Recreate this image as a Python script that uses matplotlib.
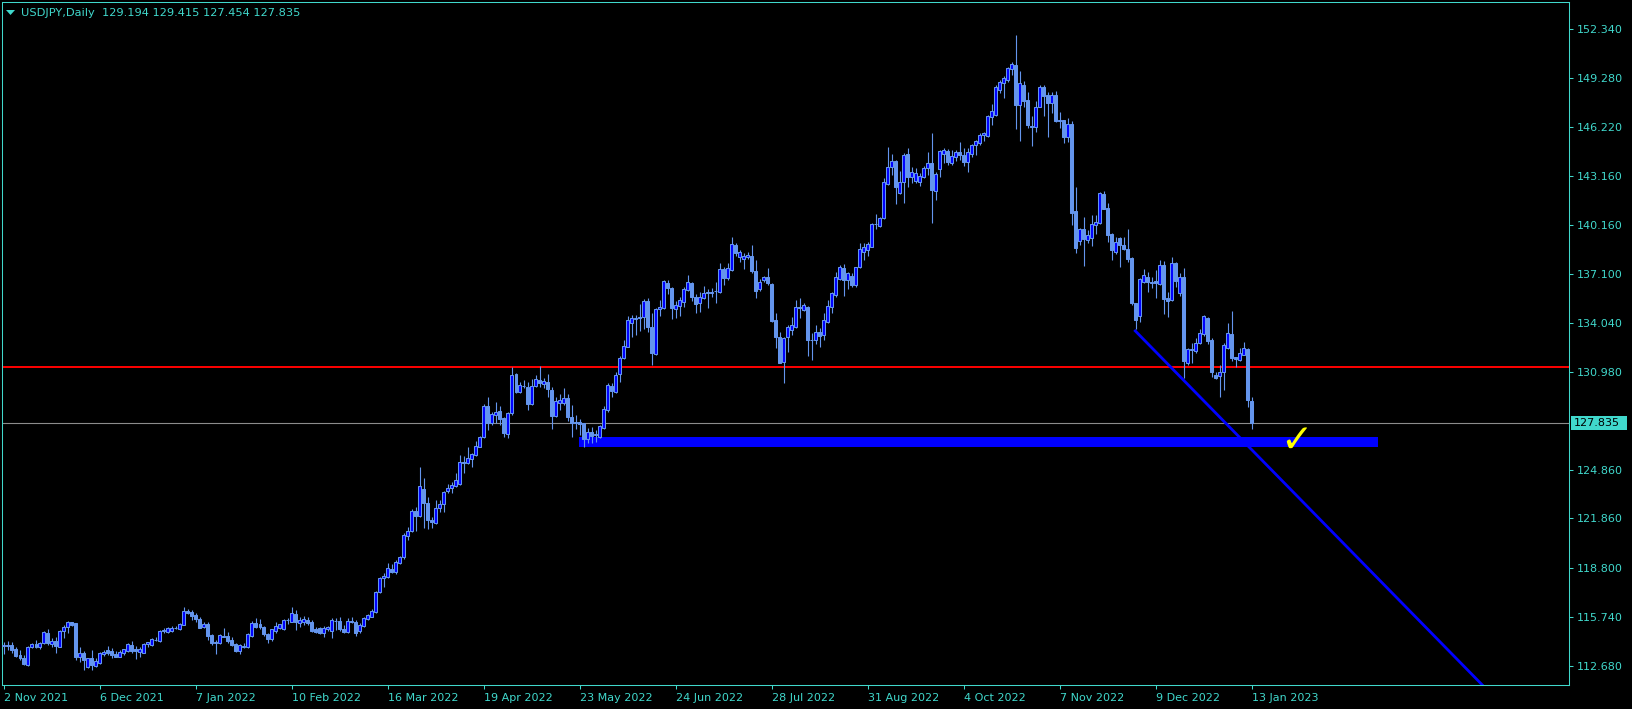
import matplotlib
matplotlib.use("Agg")
import matplotlib.pyplot as plt
import numpy as np
from matplotlib.patches import Rectangle, Polygon

# ---------------- data ----------------
symbol_title = "USDJPY,Daily"

opens = [
113.93,113.98,113.98,113.75,113.36,113.19,112.74,113.84,114.04,113.88,
114.09,114.75,114.02,114.23,113.88,114.85,115.12,115.41,115.33,113.26,
113.47,112.63,113.15,112.68,112.84,113.40,113.67,113.63,113.42,113.25,
113.46,113.61,113.98,113.71,113.55,113.50,114.04,113.98,114.27,114.23,
114.85,114.81,114.87,115.04,114.98,115.23,116.10,116.05,115.85,115.58,
115.12,115.29,114.60,114.13,114.09,114.56,114.54,114.29,114.04,113.63,
113.88,113.84,114.54,115.33,115.27,115.12,114.67,114.35,114.87,115.06,
114.96,115.54,115.43,115.91,115.33,115.43,115.54,115.43,114.96,115.06,
114.71,114.96,114.87,115.50,115.48,114.96,114.81,115.46,115.39,114.87,
115.19,115.62,115.75,116.02,117.30,118.13,118.24,118.71,118.51,119.11,
119.44,120.79,121.08,122.33,122.03,123.67,122.80,121.76,121.60,122.53,
122.76,123.57,123.74,123.90,123.98,125.40,125.29,125.54,125.81,126.33,
126.95,128.86,127.78,128.30,128.55,128.10,127.12,128.41,130.86,129.71,
130.13,130.05,128.99,130.13,130.48,130.23,130.38,129.86,128.24,129.07,
129.07,129.34,128.20,127.89,127.89,127.78,126.81,127.26,127.06,126.95,
127.47,128.61,130.13,129.76,130.83,131.83,132.56,134.01,134.30,134.38,
134.43,135.42,133.80,132.08,134.88,134.94,136.54,136.19,134.88,135.09,
135.36,136.09,136.54,135.67,135.26,135.57,135.88,135.88,136.00,135.98,
137.37,136.81,137.33,138.89,138.12,137.99,138.12,138.20,137.29,136.13,
136.71,136.87,136.46,134.22,133.18,131.62,133.14,133.62,133.80,135.01,
134.84,135.00,132.95,133.00,133.45,133.30,134.11,135.01,135.78,136.75,
137.44,136.71,136.96,136.40,137.50,138.47,138.58,138.78,140.18,140.07,
140.55,142.69,143.72,144.12,142.11,142.79,144.55,143.10,142.90,142.83,
143.14,143.66,143.97,142.27,143.60,144.53,144.74,144.01,144.39,144.70,
144.49,144.08,144.53,145.11,145.22,145.74,145.68,146.84,146.98,148.54,
148.96,149.16,149.85,150.10,147.61,148.85,147.92,146.30,146.22,147.50,
148.71,148.23,147.75,148.20,146.60,146.65,145.60,146.40,141.01,139.14,
139.86,139.20,139.34,140.13,140.24,142.05,141.21,139.57,138.47,139.30,
138.89,138.64,138.06,135.26,134.49,136.61,136.92,136.50,136.65,136.46,
137.64,135.61,135.46,137.75,135.92,136.87,131.52,132.33,132.31,132.81,
133.33,134.36,132.97,130.79,130.75,130.96,132.45,133.35,131.89,131.73,
132.04,132.41,129.194]

highs = [
114.15,114.23,114.19,113.85,113.67,113.36,113.92,114.13,114.29,114.19,
114.87,114.98,114.40,114.46,114.92,115.21,115.48,115.43,115.37,113.84,
113.63,113.19,113.67,113.15,113.57,113.67,113.92,113.77,113.63,113.67,
113.75,114.08,114.23,113.92,113.84,114.09,114.19,114.40,114.46,114.92,
115.02,115.12,115.17,115.17,115.37,116.37,116.20,116.16,115.95,115.75,
115.43,115.43,114.66,114.29,114.66,115.02,114.81,114.46,114.13,114.04,
114.09,114.71,115.48,115.64,115.58,115.17,114.75,115.00,115.43,115.30,
115.58,115.68,116.33,116.16,115.75,115.80,115.75,115.54,115.12,115.12,
115.19,115.16,115.64,115.64,115.75,115.23,115.64,115.75,115.54,115.37,
115.75,115.91,116.20,117.36,118.24,118.44,119.10,119.02,119.27,119.52,
120.98,121.35,122.43,122.60,125.09,124.36,123.22,121.97,123.01,123.01,
123.57,124.01,124.15,124.67,125.81,125.75,126.29,125.96,126.70,127.00,
129.00,129.44,128.51,129.13,128.86,128.20,128.51,131.27,130.94,130.38,
130.48,130.38,130.52,130.79,131.35,130.59,130.83,130.03,129.40,129.61,
130.00,129.61,128.93,128.30,128.03,127.83,127.47,127.58,127.37,127.68,
128.86,130.27,130.27,131.00,131.97,132.97,134.47,134.53,134.53,135.21,
135.50,135.57,134.63,134.94,135.46,136.71,136.71,136.25,135.42,135.63,
136.25,137.02,136.60,135.84,135.98,136.33,136.13,136.19,136.60,137.75,
137.54,137.79,139.41,139.03,138.58,138.41,138.47,138.89,137.95,136.75,
136.96,137.43,136.50,134.63,133.49,133.18,133.91,134.38,135.46,135.57,
135.26,135.10,133.40,133.90,133.70,134.63,135.46,135.98,137.23,137.64,
137.71,137.23,137.12,137.54,138.99,139.03,139.10,140.24,140.82,140.66,
143.04,145.01,144.55,144.18,143.52,144.60,144.91,143.77,143.66,143.35,
143.81,144.70,145.88,143.46,144.80,144.95,144.85,144.80,144.80,145.32,
144.91,144.91,145.18,145.43,145.84,145.94,146.98,147.67,148.85,149.16,
149.41,149.99,150.30,151.96,149.74,149.10,148.44,146.92,147.88,148.85,
148.85,148.40,148.40,148.45,147.20,146.70,146.80,146.60,142.52,139.93,
140.65,139.82,140.76,140.76,142.21,142.25,141.48,139.65,139.41,139.41,
139.41,139.86,138.12,135.30,136.81,137.37,137.23,136.92,137.33,137.95,
137.91,135.98,138.12,137.85,137.16,137.44,132.45,132.77,133.08,133.64,
134.55,134.43,133.08,131.00,131.42,132.77,134.05,134.78,131.93,132.45,
132.83,132.45,129.415]

lows = [
113.40,113.67,113.46,113.25,113.05,112.73,112.68,113.77,113.77,113.71,
114.04,113.98,113.84,113.50,113.84,114.44,114.75,115.19,113.05,112.94,
112.43,112.53,112.43,112.60,112.80,113.30,113.36,113.15,113.21,113.21,
113.36,113.55,113.50,113.09,113.25,113.46,113.84,113.92,114.23,114.19,
114.71,114.75,114.81,114.96,114.92,115.21,115.92,115.54,115.43,115.06,
115.02,114.29,113.98,113.42,114.04,114.46,114.13,113.92,113.57,113.42,
113.78,113.77,114.46,115.06,114.98,114.54,114.08,114.25,114.71,114.95,
114.90,115.29,115.40,114.92,115.12,115.20,115.23,114.81,114.75,114.67,
114.46,114.87,114.40,114.92,114.87,114.75,114.75,115.33,114.54,114.75,
115.12,115.54,115.70,115.95,117.24,117.61,118.13,118.44,118.40,119.02,
119.36,120.52,121.04,121.10,121.97,121.25,121.20,121.25,121.52,122.28,
122.28,123.42,123.42,123.84,123.94,124.71,125.25,125.04,125.75,126.29,
126.89,127.37,127.68,127.78,127.68,126.95,126.89,128.30,129.65,129.65,
129.96,128.63,128.93,130.07,130.07,129.96,129.40,127.41,128.16,128.61,
128.93,127.95,126.95,127.41,127.06,126.33,126.58,126.54,126.64,126.85,
127.41,128.51,129.44,129.69,130.38,131.77,132.52,133.14,133.28,133.55,
133.64,133.45,131.41,132.04,134.47,134.88,135.84,134.26,134.32,134.47,
135.05,136.04,135.42,134.67,134.74,135.50,134.94,135.67,135.30,135.92,
136.40,136.71,137.29,138.20,137.85,137.37,137.99,137.16,135.57,136.04,
136.60,136.40,134.11,132.45,131.52,130.32,132.25,133.30,133.70,134.32,
134.80,132.00,131.72,132.70,132.55,133.00,134.00,134.63,135.67,136.71,
135.71,136.13,136.30,136.30,137.44,137.95,138.20,138.74,139.87,139.99,
140.49,142.62,143.25,141.44,142.06,141.52,142.52,142.73,142.77,142.56,
143.04,143.25,140.28,141.69,143.14,143.97,143.87,143.87,144.14,144.18,
143.81,143.46,144.35,144.49,145.11,145.38,145.63,146.36,146.94,148.37,
148.06,149.06,149.47,146.11,145.38,147.47,146.19,145.05,145.95,147.46,
146.92,145.63,147.10,146.55,146.20,145.25,145.30,140.13,138.41,138.89,
137.58,138.99,138.83,139.57,140.20,141.10,139.10,137.95,138.31,137.50,
138.58,137.85,135.15,133.64,134.07,136.55,135.98,136.19,135.57,136.40,
134.59,134.43,135.40,136.25,135.71,130.59,131.41,131.52,132.18,132.73,
133.24,132.72,130.69,130.55,129.45,129.86,132.39,131.69,131.27,131.66,
132.02,128.78,127.454]

closes = [
113.98,113.90,113.67,113.30,113.19,112.80,113.84,114.04,113.84,114.13,
114.81,114.09,114.23,113.92,114.87,115.12,115.41,115.23,113.26,113.47,
113.05,113.15,112.74,112.99,113.46,113.57,113.50,113.36,113.25,113.54,
113.71,114.03,113.63,113.63,113.71,114.04,114.15,114.36,114.28,114.85,
114.92,115.02,115.06,115.02,115.29,116.10,115.99,115.79,115.58,115.06,
115.27,114.54,114.09,114.19,114.60,114.50,114.23,113.98,113.63,113.96,
113.88,114.67,115.37,115.12,115.08,114.67,114.38,114.96,115.16,115.27,
115.54,115.52,115.95,115.39,115.54,115.60,115.37,114.87,114.81,114.71,
115.02,115.08,115.54,115.46,114.96,114.81,115.48,115.42,114.75,115.23,
115.64,115.85,116.12,117.30,118.13,118.28,118.75,118.51,119.17,119.44,
120.83,121.08,122.33,122.03,123.88,122.84,121.76,121.64,122.49,122.76,
123.53,123.76,123.94,124.25,125.40,125.33,125.60,125.85,126.37,126.95,
128.86,127.78,128.34,128.49,128.03,127.16,128.41,130.79,129.76,130.17,
130.09,129.01,130.13,130.52,130.27,130.42,129.92,128.24,129.19,129.24,
129.34,128.20,127.78,127.78,127.74,126.81,127.22,127.02,127.06,127.62,
128.66,130.17,129.82,130.79,131.83,132.60,134.22,134.32,134.34,134.32,
135.42,133.80,132.18,134.88,135.01,136.65,136.19,134.94,135.15,135.46,
136.13,136.56,135.67,135.21,135.63,135.88,135.96,135.98,136.04,137.37,
136.81,137.43,138.93,138.41,138.47,138.20,138.27,137.29,136.04,136.60,
136.92,136.54,134.18,133.18,131.56,133.12,133.80,133.88,135.01,134.96,
135.15,132.95,133.00,133.45,133.25,134.22,135.09,135.88,136.88,137.50,
136.71,137.12,136.40,137.50,138.62,138.74,138.95,140.20,140.20,140.55,
142.79,143.72,144.12,142.52,142.79,144.49,143.14,143.46,143.39,143.19,
143.66,144.02,142.31,143.31,144.74,144.80,144.08,144.43,144.70,144.49,
144.08,144.66,145.11,145.38,145.74,145.84,146.92,147.23,148.75,149.04,
149.27,149.89,150.16,147.61,148.96,147.85,146.36,146.22,147.46,148.71,
148.17,147.75,148.20,146.60,146.65,145.60,146.40,140.90,138.72,139.86,
139.26,139.51,140.20,140.34,142.10,141.15,139.51,138.58,139.10,138.89,
138.64,137.99,135.30,134.22,136.75,137.02,136.56,136.61,136.54,137.64,
135.53,135.42,137.75,136.67,136.87,131.66,132.39,132.41,132.77,133.43,
134.49,132.91,131.00,130.59,131.00,132.66,133.39,131.83,131.79,132.18,
132.45,129.24,127.835]

date_labels = ["2 Nov 2021", "6 Dec 2021", "7 Jan 2022", "10 Feb 2022",
               "16 Mar 2022", "19 Apr 2022", "23 May 2022", "24 Jun 2022",
               "28 Jul 2022", "31 Aug 2022", "4 Oct 2022", "7 Nov 2022",
               "9 Dec 2022", "13 Jan 2023"]
date_label_bars = [0, 24, 48, 72, 96, 120, 144, 168, 192, 216, 240, 264, 288, 312]

price_ticks = [152.340, 149.280, 146.220, 143.160, 140.160, 137.100, 134.040,
               130.980, 124.860, 121.860, 118.800, 115.740, 112.680]

resistance_level = 131.31
support_zone_prices = [126.33, 126.91]
support_zone_bars = [143.8, 343.6]
trend_bars = [282.65, 369.5]
trend_prices = [133.60, 111.53]
check_bar, check_price = 323.2, 126.70

# ---------------- styling ----------------
W, H = 1633, 709
FG = '#40D8CC'
CANDLE = '#6495ED'
BULL_FILL = '#0000FF'
FS = 8.0

fig = plt.figure(figsize=(W / 100, H / 100), dpi=100, facecolor='black')
ax_l, ax_r, ax_t, ax_b = 2.5, 1569.5, 2.3, 685.0
ax = fig.add_axes([ax_l / W, 1 - ax_b / H, (ax_r - ax_l) / W, (ax_b - ax_t) / H])
ax.set_facecolor('black')
ax.set_xlim(-0.3, 391.45)
ax.set_ylim(111.49, 154.0)

o = np.array(opens); h = np.array(highs); l = np.array(lows); c = np.array(closes)
x = np.arange(len(c))
bull = c >= o

# objects behind candles
ax.axhline(resistance_level, color='#FF0000', lw=1.4, zorder=2)
ax.axhline(c[-1], color='#8C8C8C', lw=0.8, zorder=2)
ax.add_patch(Rectangle((support_zone_bars[0], support_zone_prices[0]),
                       support_zone_bars[1] - support_zone_bars[0],
                       support_zone_prices[1] - support_zone_prices[0],
                       facecolor='#0000FF', edgecolor='none', zorder=2))
slope = (trend_prices[1] - trend_prices[0]) / (trend_bars[1] - trend_bars[0])
tx = [trend_bars[0], trend_bars[1] + 10]
ty = [trend_prices[0], trend_prices[1] + slope * 10]
ax.plot(tx, ty, color='#0000FF', lw=2.0, zorder=2, solid_capstyle='butt')

# candles
ax.vlines(x, l, h, color=CANDLE, lw=0.8, zorder=3)
bottoms = np.minimum(o, c)
heights = np.maximum(np.abs(c - o), 0.03)
ax.bar(x[bull], heights[bull], bottom=bottoms[bull], width=0.6,
       facecolor=BULL_FILL, edgecolor=CANDLE, linewidth=0.75, zorder=4)
ax.bar(x[~bull], heights[~bull], bottom=bottoms[~bull], width=0.6,
       facecolor=CANDLE, edgecolor=CANDLE, linewidth=0.75, zorder=4)

# check mark
ax.text(check_bar, check_price, '\u2713', color='#FFFF00', fontsize=28,
        fontweight='bold', ha='center', va='center', zorder=6)

# axes styling
for s in ax.spines.values():
    s.set_color(FG)
    s.set_linewidth(0.75)
ax.yaxis.tick_right()
ax.set_yticks(price_ticks)
ax.set_yticklabels([f'{v:.3f}' for v in price_ticks])
ax.set_xticks(date_label_bars)
ax.set_xticklabels(date_labels, ha='left')
ax.tick_params(axis='both', colors=FG, direction='out', length=3, width=0.75,
               labelsize=FS, pad=2.5)

# current price label on axis
fig.canvas.draw()
y_disp = ax.transData.transform((0, c[-1]))[1]
fig.patches.append(Rectangle((1571 / W, (y_disp - 7) / H), 56 / W, 14 / H,
                             transform=fig.transFigure, facecolor=FG,
                             edgecolor='none', zorder=5))
fig.text(1574 / W, y_disp / H, f'{c[-1]:.3f}', color='black', fontsize=FS,
         va='center', ha='left', zorder=6)

# title
fig.patches.append(Polygon([[6 / W, 1 - 10 / H], [15 / W, 1 - 10 / H], [10.5 / W, 1 - 15 / H]],
                           closed=True, transform=fig.transFigure,
                           facecolor=FG, edgecolor='none'))
fig.text(21 / W, 1 - 12.5 / H,
         f'{symbol_title}  {o[-1]:.3f} {h[-1]:.3f} {l[-1]:.3f} {c[-1]:.3f}',
         color=FG, fontsize=8.2, va='center', ha='left')

fig.savefig('out.png', dpi=100, facecolor='black')
